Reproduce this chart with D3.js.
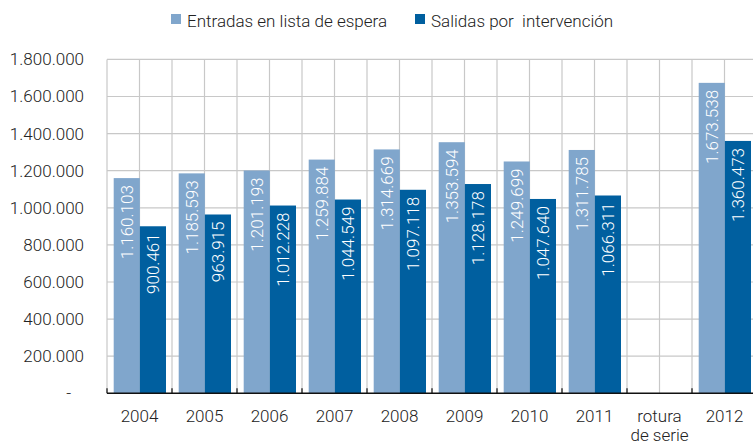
<!DOCTYPE html>
<html>
<head>
<meta charset="utf-8">
<script src="https://cdn.jsdelivr.net/npm/d3@7"></script>
<style>
  html, body { margin: 0; padding: 0; background: #fff; }
  svg { display: block; font-family: Roboto, "Liberation Sans", Arial, sans-serif; font-weight: 300; }
</style>
</head>
<body>
<svg id="chart" width="753" height="445"></svg>
<script>
// Categories along the x axis ("rotura de serie" marks the break in the series)
const categories = ["2004", "2005", "2006", "2007", "2008", "2009", "2010", "2011", "rotura de serie", "2012"];
const seriesNames = ["Entradas en lista de espera", "Salidas por  intervención"];
const entradas = [1160103, 1185593, 1201193, 1259884, 1314669, 1353594, 1249699, 1311785, null, 1673538];
const salidas  = [900461, 963915, 1012228, 1044549, 1097118, 1128178, 1047640, 1066311, null, 1360473];
const yTicks = [0, 200000, 400000, 600000, 800000, 1000000, 1200000, 1400000, 1600000, 1800000];
const colors = ["#80a6cc", "#005f9f"];

const svg = d3.select("#chart");
const plotLeft = 107, plotRight = 757, plotTop = 59.4, plotBottom = 393.3;
const fontFamily = "Roboto, 'Liberation Sans', Arial, sans-serif";

const x = d3.scaleBand().domain(categories).range([plotLeft, plotRight]).padding(0);
const x1 = d3.scaleBand().domain(seriesNames).range([6.7, 59]).padding(0);
const y = d3.scaleLinear().domain([0, 1800000]).range([plotBottom, plotTop]);

const fmt = v => v === 0 ? "-" : d3.format(",")(v).replace(/,/g, ".");

// Grid: horizontal lines at every tick, vertical lines every half band
const grid = svg.append("g").attr("stroke", "#c8c8c8").attr("stroke-width", 1.2);
yTicks.filter(t => t > 0).forEach(t => {
  grid.append("line").attr("x1", plotLeft).attr("x2", plotRight).attr("y1", y(t)).attr("y2", y(t));
});
const half = x.bandwidth() / 2;
d3.range(0, categories.length * 2 + 1).forEach(k => {
  const xx = plotLeft + k * half;
  grid.append("line").attr("x1", xx).attr("x2", xx).attr("y1", plotTop).attr("y2", plotBottom);
});

// Bars
const rows = categories.map((c, i) => ({ cat: c, vals: [entradas[i], salidas[i]] }));
const groups = svg.append("g").selectAll("g").data(rows).join("g")
  .attr("transform", d => `translate(${x(d.cat)},0)`);

const entries = d => d.vals.map((v, j) => ({ name: seriesNames[j], v, j })).filter(e => e.v != null);

groups.selectAll("rect")
  .data(entries)
  .join("rect")
  .attr("x", e => x1(e.name))
  .attr("width", x1.bandwidth())
  .attr("y", e => y(e.v))
  .attr("height", e => plotBottom - y(e.v))
  .attr("fill", e => colors[e.j]);

// Rotated value labels inside the bars
groups.selectAll("text.val")
  .data(entries)
  .join("text")
  .attr("class", "val")
  .attr("transform", e => `translate(${x1(e.name) + x1.bandwidth() / 2},${y(e.v) + 7}) rotate(-90)`)
  .attr("text-anchor", "end")
  .attr("dy", "0.35em")
  .attr("fill", "#fff")
  .attr("font-size", 17)
  .text(e => fmt(e.v));

// Y axis labels
const yAxis = svg.append("g")
  .attr("transform", `translate(${plotLeft},0)`)
  .call(d3.axisLeft(y).tickValues(yTicks).tickFormat(fmt).tickSize(0).tickPadding(23));
yAxis.select(".domain").remove();
yAxis.selectAll("text")
  .attr("font-size", 17)
  .attr("font-family", fontFamily)
  .attr("fill", "#222")
  .attr("dx", d => d === 0 ? -13 : 0);

// X axis: black baseline with short inward ticks at band boundaries
const xAxis = svg.append("g");
xAxis.append("line").attr("x1", plotLeft).attr("x2", plotRight).attr("y1", plotBottom).attr("y2", plotBottom)
  .attr("stroke", "#111").attr("stroke-width", 1.5);
d3.range(0, categories.length + 1).forEach(k => {
  const xx = plotLeft + k * x.bandwidth();
  xAxis.append("line").attr("x1", xx).attr("x2", xx).attr("y1", plotBottom - 5).attr("y2", plotBottom)
    .attr("stroke", "#111").attr("stroke-width", 1.2);
});
const xl = xAxis.selectAll("text").data(categories).join("text")
  .attr("x", d => x(d) + x.bandwidth() / 2)
  .attr("y", 422)
  .attr("text-anchor", "middle")
  .attr("font-size", 17)
  .attr("fill", "#222");
xl.each(function (d) {
  const words = d === "rotura de serie" ? ["rotura", "de serie"] : [d];
  const t = d3.select(this);
  words.forEach((w, i) => {
    t.append("tspan").attr("x", x(d) + x.bandwidth() / 2).attr("dy", i === 0 ? 0 : 19).text(w);
  });
});

// Legend
const legendX = [171, 415];
const legend = svg.append("g");
seriesNames.forEach((n, i) => {
  legend.append("rect").attr("x", legendX[i]).attr("y", 14).attr("width", 10).attr("height", 10)
    .attr("fill", colors[i]);
  legend.append("text").attr("x", legendX[i] + 16).attr("y", 26.5)
    .attr("font-size", 17).attr("fill", "#222")
    .style("white-space", "pre")
    .text(n);
});
</script>
</body>
</html>
